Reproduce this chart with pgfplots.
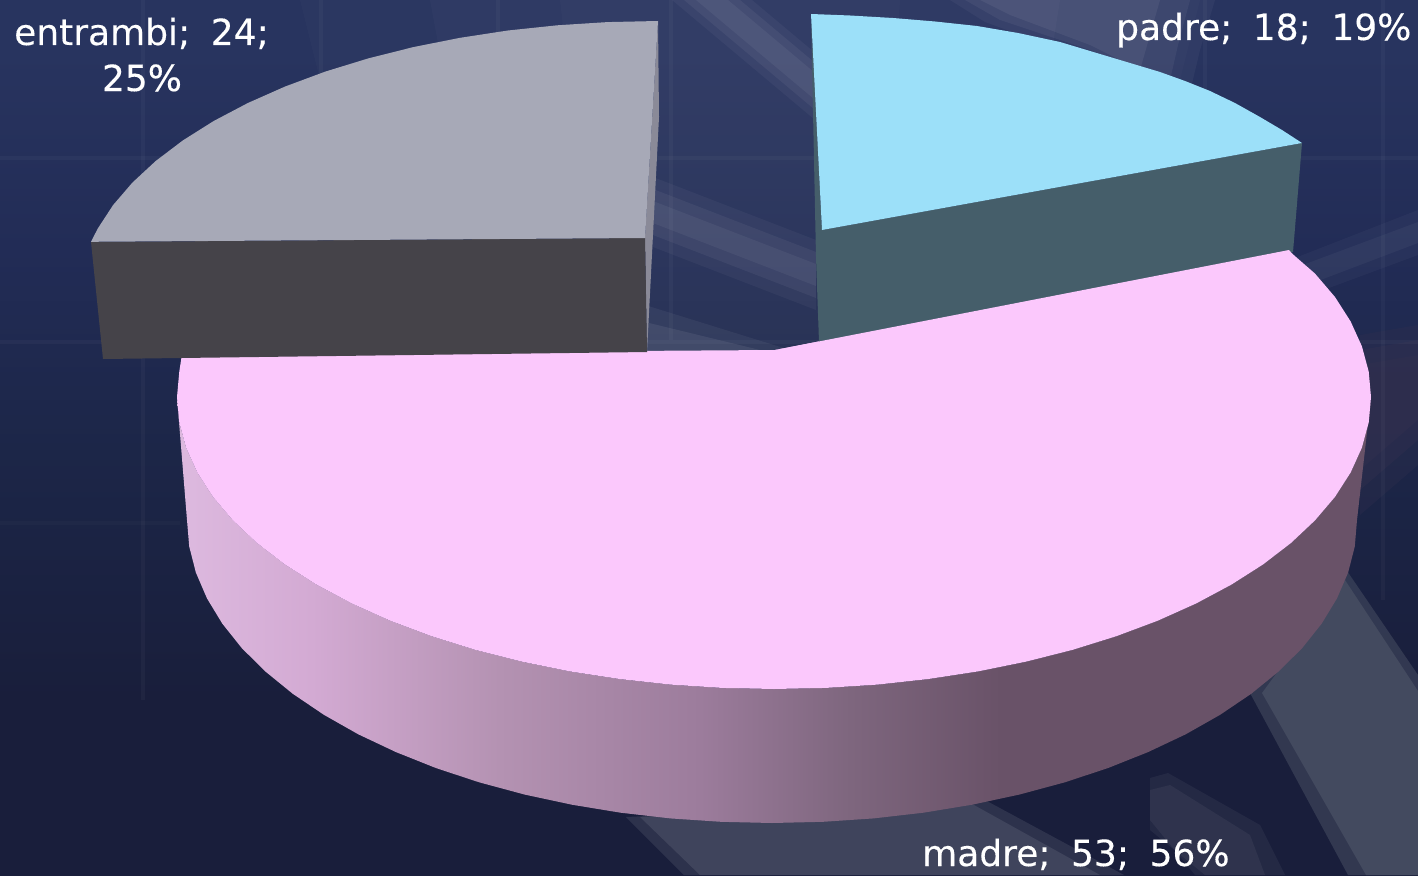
\documentclass[border=0pt]{standalone}
\usepackage{pgfplots}
\pgfplotsset{compat=1.18}
\usepackage{fontspec}
\setmainfont[WordSpace=1.8,FakeBold=0.2]{DejaVu Sans}
\definecolor{bgA}{HTML}{28345F}
\definecolor{bgB}{HTML}{222C56}
\definecolor{bgC}{HTML}{1C2648}
\definecolor{bgE}{HTML}{191E3B}
\definecolor{mA}{HTML}{DCB8DE}
\definecolor{mB}{HTML}{D3AAD3}
\definecolor{mC}{HTML}{B492B2}
\definecolor{mD}{HTML}{9C7C9C}
\definecolor{mE}{HTML}{7E667E}
\definecolor{mF}{HTML}{695268}
\definecolor{madreTop}{HTML}{FBC8FC}
\definecolor{padreTop}{HTML}{9CE0F9}
\definecolor{padreSide}{HTML}{455E6A}
\definecolor{entTop}{HTML}{A7A9B7}
\definecolor{entSide}{HTML}{454349}
\definecolor{entEdge}{HTML}{8A8A98}
\definecolor{bandc}{HTML}{434A5F}
\definecolor{mauve}{HTML}{33304F}
\pgfdeclarehorizontalshading{madreside}{100bp}{color(0bp)=(mA); color(25.6bp)=(mA); color(30.65bp)=(mB); color(38.5bp)=(mC); color(46.9bp)=(mD); color(53.2bp)=(mE); color(59.5bp)=(mF); color(100bp)=(mF)}
\pgfdeclareverticalshading{bgshade}{100bp}{color(0bp)=(bgE); color(25bp)=(bgE); color(35bp)=(bgE); color(49.3bp)=(bgC); color(60.7bp)=(bgB); color(72bp)=(bgA); color(100bp)=(bgA)}
\begin{document}
\begin{tikzpicture}
\begin{axis}[
  scale only axis, width=1418pt, height=875pt,
  xmin=0, xmax=1418, ymin=0, ymax=875, y dir=reverse,
  hide axis, clip=true,
  every axis plot/.append style={mark=none, draw=none, line width=0pt}
]
% background
\addplot[shading=bgshade] coordinates {(0,0)(1418,0)(1418,875)(0,875)} -- cycle;
% centre glow
\addplot[fill=white,opacity=.015] coordinates {(300,0)(1200,0)(1100,400)(400,400)} -- cycle;
\addplot[fill=white,opacity=.02] coordinates {(430,0)(1060,0)(1000,380)(500,380)} -- cycle;
\addplot[fill=white,opacity=.015] coordinates {(560,0)(900,0)(880,360)(600,360)} -- cycle;
% streak A
\addplot[fill=white,opacity=.04] coordinates {(672,0)(752,0)(907,130)(827,130)} -- cycle;
\addplot[fill=white,opacity=.05] coordinates {(684,0)(740,0)(895,130)(839,130)} -- cycle;
\addplot[fill=white,opacity=.05] coordinates {(696,0)(728,0)(883,130)(851,130)} -- cycle;
% streak B
\addplot[fill=white,opacity=.04] coordinates {(640,172)(816,240)(816,310)(640,242)} -- cycle;
\addplot[fill=white,opacity=.05] coordinates {(640,184)(816,252)(816,298)(640,230)} -- cycle;
\addplot[fill=white,opacity=.05] coordinates {(640,196)(816,264)(816,286)(640,218)} -- cycle;
% streak C
\addplot[fill=white,opacity=.05] coordinates {(645,305)(790,350)(645,352)} -- cycle;
\addplot[fill=white,opacity=.07] coordinates {(645,322)(760,350)(645,352)} -- cycle;
% top right band
\addplot[fill=white,opacity=.04] coordinates {(950,0)(1215,0)(1200,50)(1190,92)(1090,60)(985,22)} -- cycle;
\addplot[fill=white,opacity=.05] coordinates {(965,0)(1190,0)(1178,45)(1170,80)(1090,50)(1000,20)} -- cycle;
\addplot[fill=white,opacity=.06] coordinates {(980,0)(1160,0)(1150,35)(1140,70)(1090,45)(1010,15)} -- cycle;
% right streaks
\addplot[fill=white,opacity=.03] coordinates {(1295,258)(1418,210)(1418,255)(1310,295)} -- cycle;
\addplot[fill=white,opacity=.04] coordinates {(1300,266)(1418,222)(1418,243)(1310,284)} -- cycle;
\addplot[fill=mauve,opacity=.3] coordinates {(1360,335)(1418,325)(1418,465)(1360,515)} -- cycle;
\addplot[fill=mauve,opacity=.4] coordinates {(1360,350)(1418,340)(1418,440)(1360,490)} -- cycle;
\addplot[fill=mauve,opacity=.4] coordinates {(1360,365)(1418,355)(1418,420)(1360,470)} -- cycle;
% lower streaks
\addplot[fill=white,opacity=.05] coordinates {(1150,778)(1168,773)(1260,825)(1285,875)(1195,875)(1150,820)} -- cycle;
\addplot[fill=white,opacity=.05] coordinates {(1150,790)(1170,785)(1250,835)(1265,875)(1205,875)(1150,830)} -- cycle;
\addplot[fill=white,opacity=.09] coordinates {(626,817)(985,800)(1124,875)(684,875)} -- cycle;
\addplot[fill=white,opacity=.09] coordinates {(640,817)(965,800)(1100,875)(700,875)} -- cycle;
\addplot[fill=bandc,opacity=.6] coordinates {(1345,568)(1418,675)(1418,875)(1348,875)(1250,693)} -- cycle;
\addplot[fill=bandc] coordinates {(1345,580)(1418,691)(1418,875)(1366,875)(1262,693)} -- cycle;
% faint grid of the backdrop
\addplot[draw=white,opacity=.03,line width=4pt] coordinates {(0,158)(1418,158)};
\addplot[draw=white,opacity=.03,line width=4pt] coordinates {(0,342)(1418,342)};
\addplot[draw=white,opacity=.02,line width=4pt] coordinates {(0,523)(180,523)};
\addplot[draw=white,opacity=.03,line width=4pt] coordinates {(143,0)(143,700)};
\addplot[draw=white,opacity=.03,line width=4pt] coordinates {(321,0)(321,300)};
\addplot[draw=white,opacity=.03,line width=4pt] coordinates {(498,0)(498,300)};
\addplot[draw=white,opacity=.03,line width=4pt] coordinates {(671,0)(671,340)};
\addplot[draw=white,opacity=.03,line width=4pt] coordinates {(1205,0)(1205,250)};
\addplot[draw=white,opacity=.03,line width=4pt] coordinates {(1383,0)(1383,600)};
% madre side
\addplot[shading=madreside] coordinates {
(1371,397)(1368.7,422.4)(1361.9,447.7)(1350.6,472.6)(1335,496.9)(1315,520.4)(1291,543)(1263,564.5)(1231.3,584.7)(1196.1,603.5)(1157.8,620.7)(1116.4,636.2)(1072.5,649.9)(1026.3,661.6)(978.2,671.4)(928.5,679)(877.6,684.6)(826.1,687.9)(774,689)(721.9,687.9)(670.4,684.6)(619.5,679)(569.8,671.4)(521.7,661.6)(475.5,649.9)(431.6,636.2)(390.2,620.7)(351.9,603.5)(316.7,584.7)(285,564.5)(257,543)(233,520.4)(213,496.9)(197.4,472.6)(186.1,447.7)(179.3,422.4)(177,397)
(187,520)(189.2,546.4)(195.9,572.6)(207,598.4)(222.3,623.6)(241.8,648.1)(265.4,671.5)(292.8,693.8)(323.9,714.8)(358.3,734.3)(396,752.1)(436.4,768.2)(479.5,782.4)(524.8,794.6)(571.9,804.7)(620.6,812.7)(670.4,818.4)(721,821.8)(772,823)
(823,821.8)(873.6,818.4)(923.4,812.7)(972.1,804.7)(1019.2,794.6)(1064.5,782.4)(1107.6,768.2)(1148,752.1)(1185.7,734.3)(1220.1,714.8)(1251.2,693.8)(1278.6,671.5)(1302.2,648.1)(1321.7,623.6)(1337,598.4)(1348.1,572.6)(1354.8,546.4)(1357,520)
} -- cycle;
% madre top
\addplot[fill=madreTop] coordinates {
(775,350)(1288,250)(1315,273.6)(1335,297)(1350.6,321.4)(1361.9,346.3)(1368.7,371.6)(1371,397)(1368.7,422.4)(1361.9,447.7)(1350.6,472.6)(1335,496.9)(1315,520.4)(1291,543)(1263,564.5)(1231.3,584.7)(1196.1,603.5)(1157.8,620.7)(1116.4,636.2)(1072.5,649.9)(1026.3,661.6)(978.2,671.4)(928.5,679)(877.6,684.6)(826.1,687.9)(774,689)(721.9,687.9)(670.4,684.6)(619.5,679)(569.8,671.4)(521.7,661.6)(475.5,649.9)(431.6,636.2)(390.2,620.7)(351.9,603.5)(316.7,584.7)(285,564.5)(257,543)(233,520.4)(213,496.9)(197.4,472.6)(186.1,447.7)(179.3,422.4)(177,397)(179.3,371.6)(182,354)
} -- cycle;
% padre
\addplot[fill=padreSide] coordinates {(811,15)(822,230)(1302,143)(1293,252)(819,342)(816,257)} -- cycle;
\addplot[fill=padreTop] coordinates {(811,14)(850,15.5)(893,18)(935,21.5)(977,26)(1018,33)(1060,42)(1110,57)(1135,64.5)(1160,72)(1185,81)(1210,91)(1235,103)(1260,117)(1282,130)(1302,143)(822,230)} -- cycle;
\addplot[fill=madreTop] coordinates {(775,350)(1289,250)(1295,257)(819,345)} -- cycle;
% entrambi
\addplot[fill=entEdge] coordinates {(658,21)(659,117)(647,352)(645,238)} -- cycle;
\addplot[fill=entSide] coordinates {(91,242)(645,238)(647,352)(103,359)} -- cycle;
\addplot[fill=entTop] coordinates {(658,21)(607.4,22.1)(557.3,25.3)(507.9,30.5)(459.6,37.9)(412.9,47.2)(368,58.5)(325.3,71.6)(285.2,86.5)(247.9,103)(213.7,121)(182.9,140.4)(155.7,161)(132.3,182.7)(113,205.2)(97.8,228.5)(91,241.8)(645,238)} -- cycle;
% labels
\node[anchor=base west,inner sep=0pt,text=white,font=\fontsize{36}{42}\selectfont] at (axis cs:1116,40) {padre; 18; 19\%};
\node[anchor=base west,inner sep=0pt,text=white,font=\fontsize{36}{42}\selectfont] at (axis cs:14,45) {entrambi; 24;};
\node[anchor=base,inner sep=0pt,text=white,font=\fontsize{36}{42}\selectfont] at (axis cs:142,91) {25\%};
\node[anchor=base west,inner sep=0pt,text=white,font=\fontsize{36}{42}\selectfont] at (axis cs:922,866) {madre; 53; 56\%};
\end{axis}
\end{tikzpicture}
\end{document}
